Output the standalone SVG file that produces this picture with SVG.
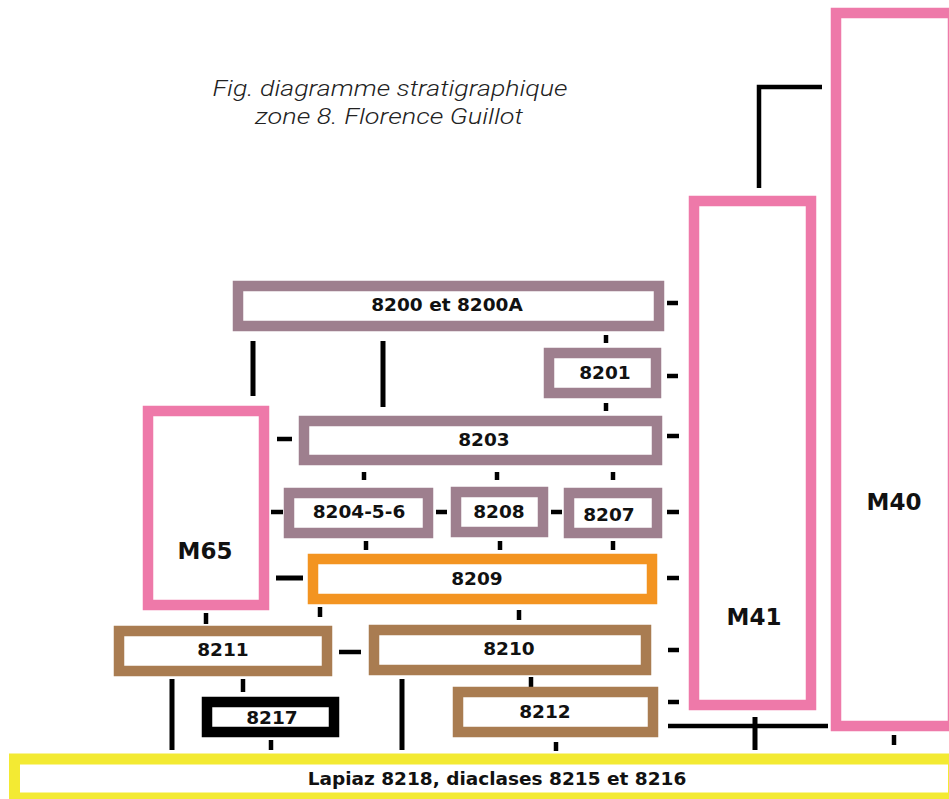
<svg xmlns="http://www.w3.org/2000/svg" width="949" height="799" viewBox="0 0 949 799">
<style>
  .box { fill: #ffffff; stroke-width: 10.5; }
  .mauve { stroke: #9e7f8e; }
  .pink { stroke: #ee79a9; }
  .orange { stroke: #f39421; }
  .brown { stroke: #a97c51; }
  .black { stroke: #000000; }
  .yellow { stroke: #f3ea33; stroke-width: 11; }
  .lbl { font-family: "DejaVu Sans", Verdana, sans-serif; font-weight: bold; font-size: 18.5px; fill: #111; text-anchor: middle; }
  .big { font-size: 23px; }
  .title { font-family: "Roboto", "Liberation Sans", Arial, sans-serif; font-style: italic; font-weight: 300; font-size: 22px; fill: #222; text-anchor: middle; }
  .c { stroke: #000; stroke-width: 4.5; fill: none; stroke-linecap: butt; }
  .cw { stroke: #000; stroke-width: 5; fill: none; }
</style>

<g id="title">
  <text class="title" x="390" y="96" textLength="355" lengthAdjust="spacingAndGlyphs">Fig. diagramme stratigraphique</text>
  <text class="title" x="389" y="124" textLength="268" lengthAdjust="spacingAndGlyphs">zone 8. Florence Guillot</text>
</g>

<g id="connectors">
  <!-- L connector M41 - M40 -->
  <path class="c" d="M759,188 V87 H822"/>
  <!-- right dashes to M41 -->
  <line class="c" x1="667" y1="303" x2="678" y2="303"/>
  <line class="c" x1="667" y1="376" x2="678" y2="376"/>
  <line class="c" x1="667" y1="436" x2="679" y2="436"/>
  <line class="c" x1="667" y1="512" x2="679" y2="512"/>
  <line class="c" x1="667" y1="578" x2="679" y2="578"/>
  <line class="c" x1="668" y1="650" x2="679" y2="650"/>
  <line class="c" x1="668" y1="702" x2="679" y2="702"/>
  <line class="c" x1="668" y1="726" x2="828" y2="726"/>
  <!-- left dashes to M65 and between boxes -->
  <line class="c" x1="277" y1="439" x2="292" y2="439"/>
  <line class="c" x1="271" y1="512" x2="283" y2="512"/>
  <line class="c" x1="436" y1="512" x2="447" y2="512"/>
  <line class="c" x1="551" y1="512" x2="562" y2="512"/>
  <line class="cw" x1="276" y1="578" x2="303" y2="578"/>
  <line class="c" x1="339" y1="652" x2="361" y2="652"/>
  <!-- vertical ticks -->
  <line class="c" x1="606" y1="335" x2="606" y2="343"/>
  <line class="c" x1="606" y1="403" x2="606" y2="411"/>
  <line class="cw" x1="253" y1="341" x2="253" y2="396"/>
  <line class="cw" x1="383" y1="341" x2="383" y2="407"/>
  <line class="c" x1="364" y1="472" x2="364" y2="480"/>
  <line class="c" x1="497" y1="472" x2="497" y2="480"/>
  <line class="c" x1="613" y1="472" x2="613" y2="480"/>
  <line class="c" x1="366" y1="541" x2="366" y2="550"/>
  <line class="c" x1="500" y1="541" x2="500" y2="550"/>
  <line class="c" x1="613" y1="541" x2="613" y2="550"/>
  <line class="c" x1="206" y1="613" x2="206" y2="624"/>
  <line class="c" x1="320" y1="607" x2="320" y2="617"/>
  <line class="c" x1="519" y1="610" x2="519" y2="620"/>
  <line class="cw" x1="172" y1="679" x2="172" y2="750"/>
  <line class="c" x1="243" y1="679" x2="243" y2="692"/>
  <line class="c" x1="271" y1="740" x2="271" y2="750"/>
  <line class="cw" x1="402" y1="679" x2="402" y2="750"/>
  <line class="c" x1="531" y1="677" x2="531" y2="687"/>
  <line class="c" x1="556" y1="742" x2="556" y2="751"/>
  <line class="cw" x1="755" y1="717" x2="755" y2="750"/>
  <line class="c" x1="894" y1="735" x2="894" y2="745"/>
</g>

<g id="M40">
  <rect class="box pink" x="836" y="13" width="117" height="713"/>
  <text class="lbl big" x="894" y="510">M40</text>
</g>
<g id="M41">
  <rect class="box pink" x="694" y="201" width="117" height="504"/>
  <text class="lbl big" x="754" y="625">M41</text>
</g>
<g id="M65">
  <rect class="box pink" x="148" y="411" width="116" height="194"/>
  <text class="lbl big" x="205" y="559">M65</text>
</g>
<g id="n8200">
  <rect class="box mauve" x="238" y="286" width="421" height="40"/>
  <text class="lbl" x="447" y="311">8200 et 8200A</text>
</g>
<g id="n8201">
  <rect class="box mauve" x="549" y="353" width="107" height="40"/>
  <text class="lbl" x="605" y="379">8201</text>
</g>
<g id="n8203">
  <rect class="box mauve" x="304" y="421" width="353" height="39"/>
  <text class="lbl" x="484" y="446">8203</text>
</g>
<g id="n8204">
  <rect class="box mauve" x="289" y="493" width="139" height="40"/>
  <text class="lbl" x="359" y="518">8204-5-6</text>
</g>
<g id="n8208">
  <rect class="box mauve" x="456" y="492" width="87" height="40"/>
  <text class="lbl" x="499" y="518">8208</text>
</g>
<g id="n8207">
  <rect class="box mauve" x="569" y="493" width="88" height="40"/>
  <text class="lbl" x="609" y="521">8207</text>
</g>
<g id="n8209">
  <rect class="box orange" x="313" y="559" width="339" height="40"/>
  <text class="lbl" x="477" y="585">8209</text>
</g>
<g id="n8211">
  <rect class="box brown" x="119" y="631" width="208" height="40"/>
  <text class="lbl" x="223" y="656">8211</text>
</g>
<g id="n8210">
  <rect class="box brown" x="374" y="630" width="272" height="40"/>
  <text class="lbl" x="509" y="655">8210</text>
</g>
<g id="n8217">
  <rect class="box black" x="207" y="702" width="127" height="30"/>
  <text class="lbl" x="272" y="724">8217</text>
</g>
<g id="n8212">
  <rect class="box brown" x="458" y="692" width="195" height="40"/>
  <text class="lbl" x="545" y="718">8212</text>
</g>
<g id="n8218">
  <rect class="box yellow" x="14.5" y="759" width="939" height="39"/>
  <text class="lbl" x="497" y="785">Lapiaz 8218, diaclases 8215 et 8216</text>
</g>
</svg>
